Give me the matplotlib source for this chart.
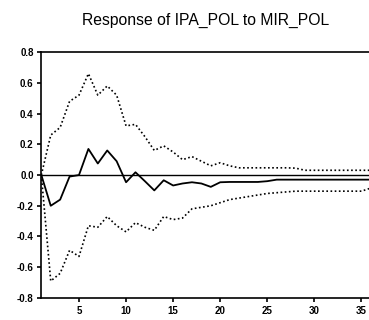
import matplotlib
matplotlib.use('Agg')
import matplotlib.pyplot as plt
import numpy as np

# impulse response of IPA_POL to a MIR_POL shock, with +/- 2 s.e. bands
periods = list(range(1, 37))
response = [0.0, -0.20, -0.16, -0.01, 0.0, 0.17, 0.075, 0.16, 0.09, -0.047,
            0.018, -0.04, -0.10, -0.034, -0.068, -0.055, -0.047, -0.055, -0.077, -0.047,
            -0.045, -0.045, -0.045, -0.045, -0.04, -0.03, -0.03, -0.03, -0.03, -0.03,
            -0.03, -0.03, -0.03, -0.03, -0.03, -0.03]
upper = [0.0, 0.26, 0.31, 0.48, 0.52, 0.66, 0.52, 0.58, 0.52, 0.32,
         0.33, 0.25, 0.16, 0.19, 0.15, 0.10, 0.12, 0.09, 0.06, 0.08,
         0.06, 0.047, 0.047, 0.047, 0.047, 0.047, 0.047, 0.045, 0.031, 0.031,
         0.031, 0.031, 0.031, 0.031, 0.031, 0.031]
lower = [0.0, -0.69, -0.64, -0.49, -0.53, -0.33, -0.34, -0.27, -0.33, -0.37,
         -0.31, -0.34, -0.36, -0.27, -0.29, -0.28, -0.22, -0.21, -0.20, -0.18,
         -0.16, -0.15, -0.14, -0.13, -0.12, -0.115, -0.11, -0.105, -0.105, -0.105,
         -0.105, -0.105, -0.105, -0.105, -0.105, -0.085]
yticks = [-0.8, -0.6, -0.4, -0.2, 0.0, 0.2, 0.4, 0.6, 0.8]
xticks = [5, 10, 15, 20, 25, 30, 35]
title = 'Response of IPA_POL to MIR_POL'

plt.rcParams['font.family'] = ['Liberation Sans', 'DejaVu Sans']

fig = plt.figure(figsize=(3.69, 3.2), dpi=100)
ax = fig.add_axes([0.112, 0.069, 0.893, 0.768])

ax.axhline(0, color='black', lw=1.0)
ax.plot(periods, upper, color='black', lw=1.2, linestyle=(0, (1, 1.5)))
ax.plot(periods, lower, color='black', lw=1.2, linestyle=(0, (1, 1.5)))
ax.plot(periods, response, color='black', lw=1.3)

ax.set_xlim(1, 36)
ax.set_ylim(-0.8, 0.8)
ax.set_yticks(yticks)
ax.set_yticklabels(['%.1f' % v for v in yticks])
ax.set_xticks(xticks)
ax.tick_params(axis='both', direction='out', length=3, width=1.2, labelsize=7, pad=2.5)
for lbl in ax.get_xticklabels() + ax.get_yticklabels():
    lbl.set_fontweight('bold')
ax.spines['right'].set_visible(False)
for s in ['left', 'bottom', 'top']:
    ax.spines[s].set_linewidth(1.2)

fig.text(0.558, 0.935, title, ha='center', va='center', fontsize=11.3)

fig.savefig('out.png', dpi=100)
